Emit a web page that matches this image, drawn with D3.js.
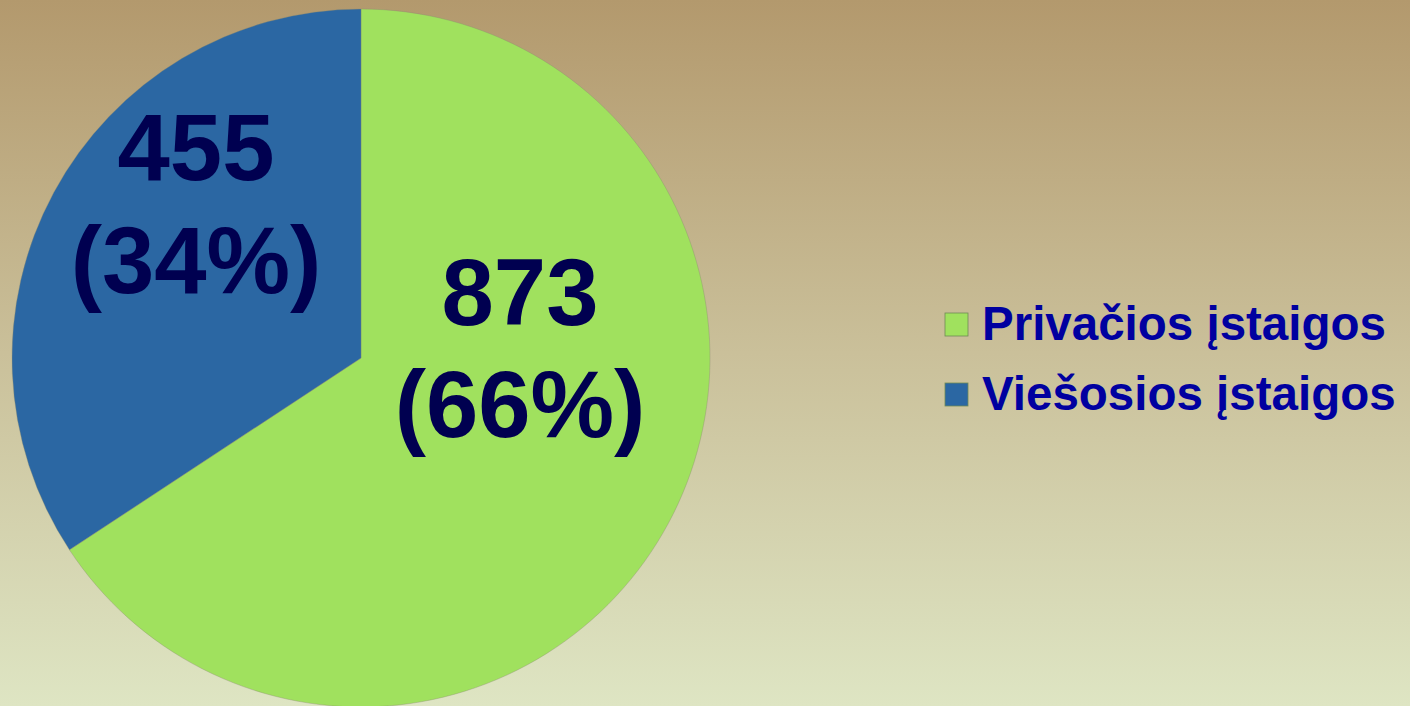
<!DOCTYPE html>
<html><head><meta charset="utf-8">
<script src="https://cdn.jsdelivr.net/npm/d3@7"></script>
<style>html,body{margin:0;padding:0;overflow:hidden}svg{display:block}</style>
</head><body>
<script>
const categories = ["Privačios įstaigos", "Viešosios įstaigos"];
const values = [873, 455];
const percents = ["66%", "34%"];
const colors = ["#A0E15E", "#2B67A3"];

const W = 1410, H = 706;
const svg = d3.select("body").append("svg").attr("width", W).attr("height", H);
const defs = svg.append("defs");
const grad = defs.append("linearGradient").attr("id","bg").attr("x1",0).attr("y1",0).attr("x2",0).attr("y2",1);
grad.append("stop").attr("offset","0%").attr("stop-color","#B3996D");
grad.append("stop").attr("offset","50%").attr("stop-color","#CAC09A");
grad.append("stop").attr("offset","100%").attr("stop-color","#DEE5C3");
svg.append("rect").attr("width",W).attr("height",H).attr("fill","url(#bg)");

const cx = 361, cy = 358, r = 349;
const pie = d3.pie().sort(null).value(d => d);
const arcs = pie(values);
const arc = d3.arc().innerRadius(0).outerRadius(r);
const g = svg.append("g").attr("transform", `translate(${cx},${cy})`);
g.selectAll("path").data(arcs).join("path")
  .attr("d", arc).attr("fill", (d,i) => colors[i])
  .attr("stroke", "#8a8a70").attr("stroke-width", 0.6).attr("stroke-opacity", 0.6);

// labels
const labelPos = [[159, -33, 112], [-165, -178, 113]];
const lg = g.selectAll("g.lbl").data(arcs).join("g").attr("class","lbl")
  .attr("transform", (d,i) => `translate(${labelPos[i][0]},${labelPos[i][1]})`);
lg.append("text").attr("text-anchor","middle").attr("y", 0)
  .style("font-family","'Liberation Sans', Arial, sans-serif").style("font-weight","bold")
  .style("font-size","94px").attr("fill","#000050").text(d => d.data);
lg.append("text").attr("text-anchor","middle").attr("y", (d,i) => labelPos[i][2])
  .style("font-family","'Liberation Sans', Arial, sans-serif").style("font-weight","bold")
  .style("font-size","94px").attr("fill","#000050").text((d,i) => `(${percents[i]})`);

// legend
const leg = svg.append("g").attr("transform","translate(945,0)");
const items = leg.selectAll("g").data(categories).join("g")
  .attr("transform", (d,i) => `translate(0,${313 + i*70})`);
items.append("rect").attr("width",23).attr("height",23)
  .attr("fill",(d,i)=>colors[i]).attr("stroke","#6f8a55").attr("stroke-width",0.8);
items.append("text").attr("x",37).attr("y",27)
  .style("font-family","'Liberation Sans', Arial, sans-serif").style("font-weight","bold")
  .style("font-size","47.5px").attr("fill","#0000A0").text(d => d);
</script>
</body></html>
